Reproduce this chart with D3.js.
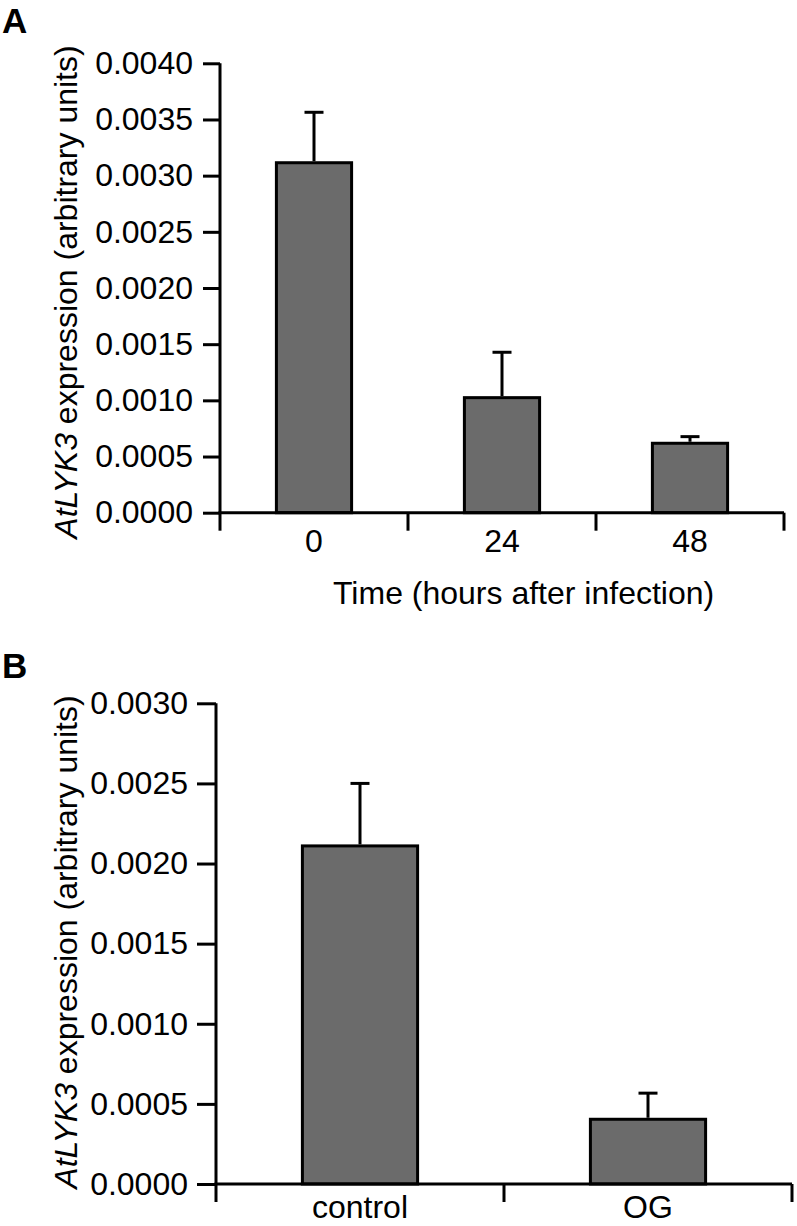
<!DOCTYPE html>
<html>
<head>
<meta charset="utf-8">
<script src="https://cdn.jsdelivr.net/npm/d3@7"></script>
<style>
  html, body { margin: 0; padding: 0; background: #fff; }
  svg { display: block; font-family: "Liberation Sans", Arial, Helvetica, sans-serif; }
</style>
</head>
<body>
<svg id="chart" width="797" height="1226"></svg>
<script>
// ---- Data ----
// Panel A
const categoriesA = ["0", "24", "48"];
const valuesA = [0.003115, 0.001024, 0.000618];
const errorsA = [0.000449, 0.000404, 0.000059];
const yTicksA = [0, 0.0005, 0.0010, 0.0015, 0.0020, 0.0025, 0.0030, 0.0035, 0.0040];
const xTitleA = "Time (hours after infection)";

// Panel B
const categoriesB = ["control", "OG"];
const valuesB = [0.00211, 0.000404];
const errorsB = [0.00039, 0.000163];
const yTicksB = [0, 0.0005, 0.0010, 0.0015, 0.0020, 0.0025, 0.0030];

const svg = d3.select("#chart");
const FONT = 32;
const BAR_FILL = "#6b6b6b";
const LW = 3;

function panel(opts) {
  const { letter, letterY, cats, vals, errs, ticks, yMax, x0, x1, yTop, yBot,
          tickLen, tickPad, titleCenterY, xTitle, xTitleY, xLabelDy } = opts;
  const g = svg.append("g");

  const x = d3.scaleBand().domain(cats).range([x0, x1]).paddingInner(0).paddingOuter(0);
  const y = d3.scaleLinear().domain([0, yMax]).range([yBot, yTop]);
  const bw = x.bandwidth() * 0.4;
  const capW = 19;

  // panel letter
  g.append("text").attr("x", 2).attr("y", letterY)
    .attr("font-size", 35).attr("font-weight", "bold").attr("fill", "#000").text(letter);

  // bars
  g.selectAll("rect.bar").data(cats).enter().append("rect")
    .attr("class", "bar")
    .attr("x", d => x(d) + x.bandwidth() / 2 - bw / 2)
    .attr("width", bw)
    .attr("y", (d, i) => y(vals[i]))
    .attr("height", (d, i) => y(0) - y(vals[i]))
    .attr("fill", BAR_FILL).attr("stroke", "#000").attr("stroke-width", LW);

  // error bars (upper only)
  const eg = g.selectAll("g.err").data(cats).enter().append("g").attr("class", "err");
  eg.append("line")
    .attr("x1", d => x(d) + x.bandwidth() / 2).attr("x2", d => x(d) + x.bandwidth() / 2)
    .attr("y1", (d, i) => y(vals[i]) - LW / 2).attr("y2", (d, i) => y(vals[i] + errs[i]))
    .attr("stroke", "#000").attr("stroke-width", LW);
  eg.append("line")
    .attr("x1", d => x(d) + x.bandwidth() / 2 - capW / 2).attr("x2", d => x(d) + x.bandwidth() / 2 + capW / 2)
    .attr("y1", (d, i) => y(vals[i] + errs[i])).attr("y2", (d, i) => y(vals[i] + errs[i]))
    .attr("stroke", "#000").attr("stroke-width", LW);

  // y axis
  const yAxis = d3.axisLeft(y).tickValues(ticks).tickSize(tickLen).tickSizeOuter(0)
    .tickPadding(tickPad).tickFormat(d3.format(".4f"));
  const ya = g.append("g").attr("transform", `translate(${x0},0)`).call(yAxis);
  ya.select(".domain").attr("stroke-width", LW).attr("d", `M0,${yTop}V${yBot}`);
  ya.selectAll(".tick line").attr("stroke-width", LW);
  ya.selectAll(".tick text").attr("font-size", FONT).attr("font-family", null).attr("fill", "#000");

  // x axis: line + ticks at band boundaries
  const xa = g.append("g");
  xa.append("line").attr("x1", x0 - LW / 2).attr("x2", x1).attr("y1", yBot).attr("y2", yBot)
    .attr("stroke", "#000").attr("stroke-width", LW);
  const bounds = cats.map(c => x(c)).concat([x.range()[1]]);
  xa.selectAll("line.xt").data(bounds).enter().append("line").attr("class", "xt")
    .attr("x1", d => d).attr("x2", d => d).attr("y1", yBot).attr("y2", yBot + 18)
    .attr("stroke", "#000").attr("stroke-width", LW);
  xa.selectAll("text.xl").data(cats).enter().append("text").attr("class", "xl")
    .attr("x", d => x(d) + x.bandwidth() / 2).attr("y", yBot + xLabelDy)
    .attr("text-anchor", "middle").attr("font-size", FONT).attr("fill", "#000").text(d => d);

  if (xTitle) {
    g.append("text").attr("x", 333).attr("y", xTitleY).attr("text-anchor", "start")
      .attr("font-size", FONT).attr("fill", "#000").text(xTitle);
  }

  // y title (rotated)
  const t = g.append("text")
    .attr("transform", `translate(77,${titleCenterY}) rotate(-90)`)
    .attr("text-anchor", "middle").attr("font-size", FONT).attr("fill", "#000");
  t.append("tspan").attr("font-style", "italic").text("AtLYK3");
  t.append("tspan").text(" expression (arbitrary units)");
}

panel({
  letter: "A", letterY: 33,
  cats: categoriesA, vals: valuesA, errs: errorsA, ticks: yTicksA, yMax: 0.004,
  x0: 220, x1: 784, yTop: 63.3, yBot: 512.7, tickLen: 17, tickPad: 10,
  titleCenterY: 292, xTitle: xTitleA, xTitleY: 604, xLabelDy: 39
});

panel({
  letter: "B", letterY: 678,
  cats: categoriesB, vals: valuesB, errs: errorsB, ticks: yTicksB, yMax: 0.003,
  x0: 216, x1: 792, yTop: 703.3, yBot: 1184, tickLen: 19, tickPad: 9,
  titleCenterY: 942, xTitle: null, xTitleY: 0, xLabelDy: 34
});
</script>
</body>
</html>
